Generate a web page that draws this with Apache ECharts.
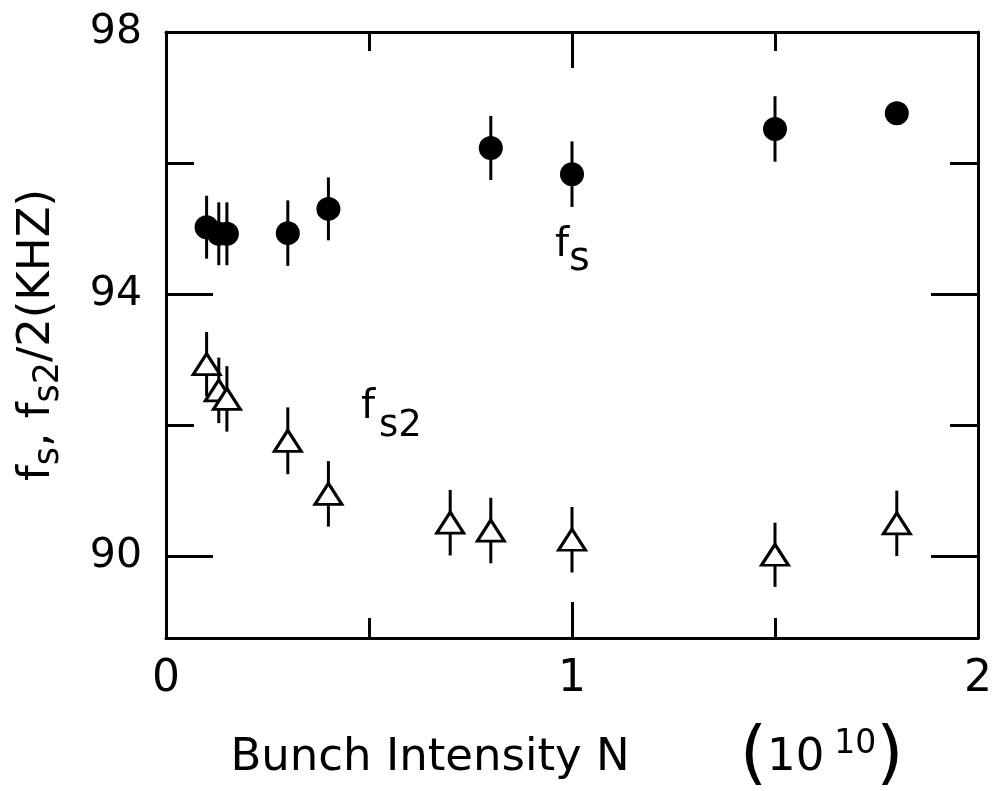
<!DOCTYPE html>
<html>
<head>
<meta charset="utf-8">
<script src="https://cdn.jsdelivr.net/npm/echarts@6/dist/echarts.min.js"></script>
<style>
html,body{margin:0;padding:0;background:#fff;}
#c{width:993px;height:791px;}
</style>
</head>
<body>
<div id="c"></div>
<script>
// ---- data ----
const fsX   = [0.10, 0.13, 0.15, 0.30, 0.40, 0.80, 1.00, 1.50, 1.80];
const fsY   = [95.02, 94.92, 94.92, 94.93, 95.30, 96.23, 95.83, 96.52, 96.76];
const fsErr = [0.48, 0.48, 0.48, 0.50, 0.48, 0.49, 0.50, 0.50, 0.00];

const fs2X   = [0.10, 0.13, 0.15, 0.30, 0.40, 0.70, 0.80, 1.00, 1.50, 1.80];
const fs2Y   = [92.93, 92.53, 92.40, 91.76, 90.95, 90.51, 90.39, 90.25, 90.02, 90.50];
const fs2Err = [0.49, 0.50, 0.50, 0.51, 0.50, 0.50, 0.50, 0.50, 0.49, 0.50];

const xTickLabels = [0, 1, 2];
const yMajorTicks = [90, 94, 98];
const yMinorTicks = [92, 96];
const xMin = 0, xMax = 2;
const yMin = 88.75, yMax = 98;

// ---- chart ----
const FONT = 'DejaVu Sans';
const chart = echarts.init(document.getElementById('c'), null, {renderer: 'canvas'});

function errData(xs, ys, es) {
  return xs.map((x, i) => [x, ys[i] - es[i], ys[i] + es[i]]);
}
function errRender(params, api) {
  const x = api.value(0), lo = api.value(1), hi = api.value(2);
  if (lo === hi) return null;
  const p1 = api.coord([x, lo]);
  const p2 = api.coord([x, hi]);
  return {
    type: 'line',
    shape: {x1: p1[0], y1: p1[1], x2: p2[0], y2: p2[1]},
    style: {stroke: '#000', lineWidth: 3}
  };
}

const lineStyle = {color: '#000', width: 3};
function yAxisDef(pos, ticks, len, withLine, withLabel) {
  return {
    type: 'value', position: pos, min: yMin, max: yMax,
    axisLine: {show: withLine, lineStyle: lineStyle},
    axisTick: {show: true, inside: true, length: len, customValues: ticks, lineStyle: {color: '#000', width: 3}},
    axisLabel: withLabel ? {
      show: true, customValues: ticks, margin: 24,
      fontFamily: FONT, fontSize: 41, color: '#000'
    } : {show: false},
    splitLine: {show: false},
    name: withLabel ? '{m|f}{s|s}{m|, f}{s|s2}{m|/2(KHZ)}' : '',
    nameLocation: 'middle',
    nameGap: 100,
    nameTextStyle: {
      fontFamily: FONT, color: '#000',
      rich: {
        m: {fontFamily: FONT, fontSize: 45, lineHeight: 58, color: '#000'},
        s: {fontFamily: FONT, fontSize: 35, verticalAlign: 'bottom', color: '#000'}
      }
    }
  };
}

const option = {
  backgroundColor: '#fff',
  animation: false,
  grid: {left: 166, right: 15, top: 32, bottom: 153, containLabel: false, outerBoundsMode: 'none'},
  xAxis: [
    {
      type: 'value', position: 'bottom', min: xMin, max: xMax, interval: 1,
      axisLine: {show: true, lineStyle: lineStyle},
      axisTick: {show: true, inside: true, length: 36, lineStyle: {color: '#000', width: 3}},
      minorTick: {show: true, splitNumber: 2, length: 20, lineStyle: {color: '#000', width: 3}},
      axisLabel: {
        show: true, margin: 20, fontFamily: FONT, fontSize: 44, color: '#000',
        customValues: xTickLabels
      },
      splitLine: {show: false},
      name: '{m|Bunch Intensity N}{g|}{p|(}{m|10}{sup|10}{p2|)}',
      nameLocation: 'middle',
      nameGap: 82,
      nameTextStyle: {
        fontFamily: FONT, color: '#000',
        rich: {
          m: {fontFamily: FONT, fontSize: 45, color: '#000'},
          g: {width: 110},
          p: {fontFamily: FONT, fontSize: 70, lineHeight: 76, color: '#000'},
          p2: {fontFamily: FONT, fontSize: 70, lineHeight: 76, color: '#000', padding: [0, 10, 0, 0]},
          sup: {fontFamily: FONT, fontSize: 33, verticalAlign: 'top', color: '#000', padding: [8, 0, 0, 10]}
        }
      }
    },
    {
      type: 'value', position: 'top', min: xMin, max: xMax, interval: 1,
      axisLine: {show: true, lineStyle: lineStyle},
      axisTick: {show: true, inside: true, length: 36, lineStyle: {color: '#000', width: 3}},
      minorTick: {show: true, splitNumber: 2, length: 19, lineStyle: {color: '#000', width: 3}},
      axisLabel: {show: false},
      splitLine: {show: false}
    }
  ],
  yAxis: [
    yAxisDef('left', yMajorTicks, 47, true, true),
    yAxisDef('left', yMinorTicks, 28, false, false),
    yAxisDef('right', yMajorTicks, 47, true, false),
    yAxisDef('right', yMinorTicks, 28, false, false)
  ],
  graphic: [
    {type: 'text', left: 555, top: 226, style: {text: 'f', font: '40px "DejaVu Sans"', fill: '#000'}, z: 10},
    {type: 'text', left: 569, top: 240, style: {text: 's', font: '40px "DejaVu Sans"', fill: '#000'}, z: 10},
    {type: 'text', left: 361, top: 388, style: {text: 'f', font: '40px "DejaVu Sans"', fill: '#000'}, z: 10},
    {type: 'text', left: 379, top: 408, style: {text: 's2', font: '37px "DejaVu Sans"', fill: '#000'}, z: 10}
  ],
  series: [
    {
      name: 'fs err', type: 'custom', xAxisIndex: 0, yAxisIndex: 0,
      renderItem: errRender, data: errData(fsX, fsY, fsErr), z: 1,
      encode: {x: 0, y: [1, 2]}, silent: true
    },
    {
      name: 'fs2 err', type: 'custom', xAxisIndex: 0, yAxisIndex: 0,
      renderItem: errRender, data: errData(fs2X, fs2Y, fs2Err), z: 1,
      encode: {x: 0, y: [1, 2]}, silent: true
    },
    {
      name: 'fs', type: 'scatter', xAxisIndex: 0, yAxisIndex: 0,
      data: fsX.map((x, i) => [x, fsY[i]]),
      symbol: 'circle', symbolSize: 24,
      itemStyle: {color: '#000', opacity: 1}, z: 3
    },
    {
      name: 'fs2', type: 'scatter', xAxisIndex: 0, yAxisIndex: 0,
      data: fs2X.map((x, i) => [x, fs2Y[i]]),
      symbol: 'triangle', symbolSize: [27, 21],
      itemStyle: {color: '#fff', borderColor: '#000', borderWidth: 3, opacity: 1}, z: 3
    }
  ]
};
chart.setOption(option);
</script>
</body>
</html>
